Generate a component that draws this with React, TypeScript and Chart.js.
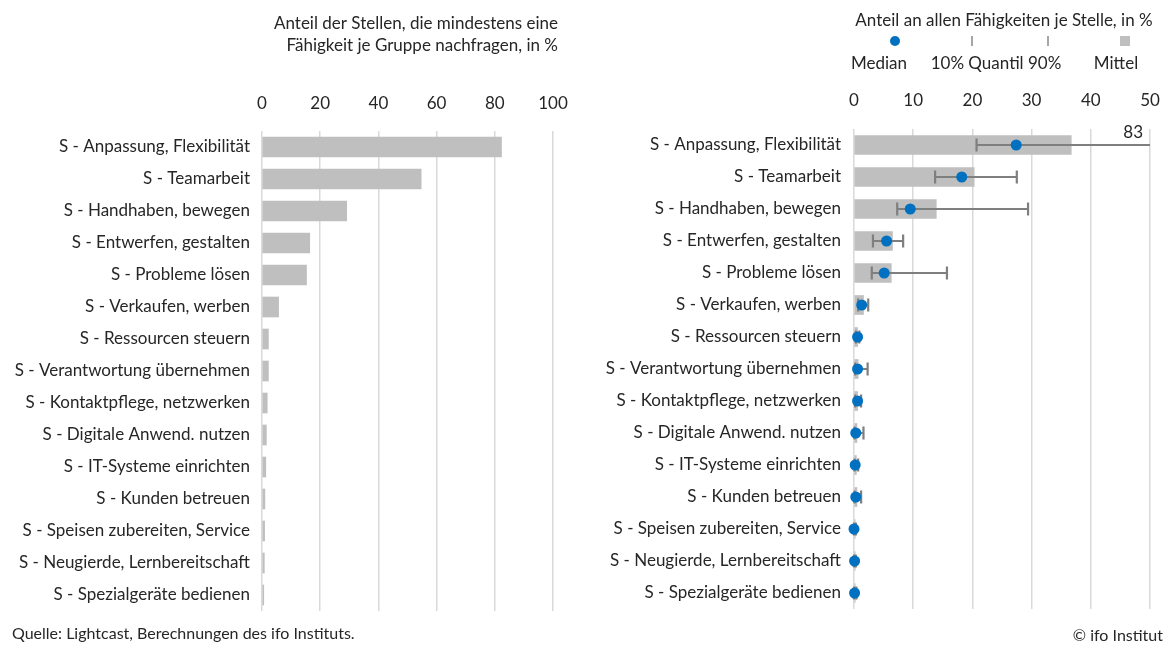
import React, { useEffect, useRef } from "react";
import { Chart, registerables } from "chart.js";

Chart.register(...registerables);

const categories = [
  "S - Anpassung, Flexibilität",
  "S - Teamarbeit",
  "S - Handhaben, bewegen",
  "S - Entwerfen, gestalten",
  "S - Probleme lösen",
  "S - Verkaufen, werben",
  "S - Ressourcen steuern",
  "S - Verantwortung übernehmen",
  "S - Kontaktpflege, netzwerken",
  "S - Digitale Anwend. nutzen",
  "S - IT-Systeme einrichten",
  "S - Kunden betreuen",
  "S - Speisen zubereiten, Service",
  "S - Neugierde, Lernbereitschaft",
  "S - Spezialgeräte bedienen",
];

// Left panel: share of job ads requesting at least one skill of the group, in %
const shareAtLeastOne = [82.3, 54.7, 29.1, 16.4, 15.3, 5.7, 2.2, 2.2, 1.8, 1.5, 1.3, 1.0, 0.9, 0.8, 0.6];

// Right panel: share among all skills per job ad, in %
const meanShare = [36.7, 20.3, 13.9, 6.5, 6.3, 1.6, 0.6, 0.7, 0.6, 0.5, 0.4, 0.5, 0.2, 0.2, 0.2];
const medianShare = [27.4, 18.2, 9.5, 5.5, 5.1, 1.3, 0.6, 0.6, 0.6, 0.3, 0.2, 0.3, 0.0, 0.1, 0.1];
const q10Share = [20.7, 13.7, 7.3, 3.2, 3.0, 0.7, 0.3, 0.2, 0.2, 0.1, 0.1, 0.1, 0.0, 0.0, 0.0];
const q90Share = [83, 27.5, 29.4, 8.3, 15.7, 2.4, 0.9, 2.3, 1.2, 1.6, 0.7, 1.2, 0.3, 0.3, 0.4];

const leftTitleLines = ["Anteil der Stellen, die mindestens eine", "Fähigkeit je Gruppe nachfragen, in %"];
const rightTitle = "Anteil an allen Fähigkeiten je Stelle, in %";
const legendLabels = ["Median", "10% Quantil 90%", "Mittel"];
const leftAxis = { min: 0, max: 100, step: 20 };
const rightAxis = { min: 0, max: 50, step: 10 };
const sourceText = "Quelle: Lightcast, Berechnungen des ifo Instituts.";
const copyrightText = "© ifo Institut";

const FONT = "Lato, 'Source Sans Pro', sans-serif";
const TEXT = "#262626";
const GRID = "#d9d9d9";
const BAR = "#bfbfbf";
const BLUE = "#0070c0";
const WHISKER = "#7f7f7f";
const FS = 17;

const leftTitlePlugin = {
  id: "leftTitle",
  afterDraw(chart: any) {
    const ctx = chart.ctx;
    ctx.save();
    ctx.fillStyle = TEXT;
    ctx.font = `${FS}px ${FONT}`;
    ctx.textAlign = "right";
    ctx.textBaseline = "middle";
    ctx.fillText(leftTitleLines[0], 558, 24);
    ctx.fillText(leftTitleLines[1], 558, 46);
    ctx.restore();
  },
};

const rightLegendPlugin = {
  id: "rightLegend",
  afterDraw(chart: any) {
    const ctx = chart.ctx;
    const off = 580;
    ctx.save();
    ctx.fillStyle = TEXT;
    ctx.font = `${FS}px ${FONT}`;
    ctx.textAlign = "center";
    ctx.textBaseline = "middle";
    ctx.fillText(rightTitle, 1004 - off, 21);
    ctx.fillText(legendLabels[0], 879 - off, 64);
    ctx.fillText(legendLabels[1], 996 - off, 64);
    ctx.fillText(legendLabels[2], 1116 - off, 64);
    // symbols
    ctx.fillStyle = BLUE;
    ctx.beginPath();
    ctx.arc(895 - off, 41, 5, 0, Math.PI * 2);
    ctx.fill();
    ctx.strokeStyle = "#a6a6a6";
    ctx.lineWidth = 2;
    [972, 1048].forEach((px) => {
      ctx.beginPath();
      ctx.moveTo(px - off, 36);
      ctx.lineTo(px - off, 46);
      ctx.stroke();
    });
    ctx.fillStyle = BAR;
    ctx.fillRect(1120 - off, 36, 10, 10);
    ctx.restore();
  },
};

const whiskerPlugin = {
  id: "whiskers",
  afterDatasetDraw(chart: any, args: any) {
    if (args.index !== 0) return;
    const { ctx, scales } = chart;
    const x = scales.x;
    const y = scales.y;
    ctx.save();
    ctx.strokeStyle = WHISKER;
    ctx.lineWidth = 2.2;
    q10Share.forEach((lo: number, i: number) => {
      const hi = q90Share[i];
      const yc = y.getPixelForValue(i);
      const clipped = hi > x.max;
      const x1 = x.getPixelForValue(lo);
      const x2 = x.getPixelForValue(Math.min(hi, x.max));
      ctx.beginPath();
      ctx.moveTo(x1, yc);
      ctx.lineTo(x2, yc);
      ctx.moveTo(x1, yc - 6.5);
      ctx.lineTo(x1, yc + 6.5);
      if (!clipped) {
        ctx.moveTo(x2, yc - 6.5);
        ctx.lineTo(x2, yc + 6.5);
      }
      ctx.stroke();
      if (clipped) {
        ctx.fillStyle = TEXT;
        ctx.font = `${FS}px ${FONT}`;
        ctx.textAlign = "right";
        ctx.textBaseline = "middle";
        ctx.fillText(String(hi), x2 - 7, yc - 12);
      }
    });
    ctx.restore();
  },
};

function xScale(axis: { min: number; max: number; step: number }, height: number, pad: number) {
  return {
    type: "linear" as const,
    position: "top" as const,
    min: axis.min,
    max: axis.max,
    afterFit(scale: any) {
      scale.height = height;
      scale.paddingLeft = 0;
      scale.paddingRight = 0;
    },
    ticks: {
      stepSize: axis.step,
      color: TEXT,
      font: { family: FONT, size: FS },
      padding: pad,
    },
    grid: { color: GRID, lineWidth: 1.5, drawTicks: false },
    border: { display: false },
  };
}

function yScale(width: number, pad: number) {
  return {
    type: "category" as const,
    afterFit(scale: any) {
      scale.width = width;
      scale.paddingTop = 0;
      scale.paddingBottom = 0;
    },
    ticks: {
      color: TEXT,
      font: { family: FONT, size: FS },
      padding: pad,
      autoSkip: false,
    },
    grid: { display: false, drawTicks: false },
    border: { display: false },
  };
}

export default function App() {
  const leftRef = useRef<HTMLCanvasElement>(null);
  const rightRef = useRef<HTMLCanvasElement>(null);

  useEffect(() => {
    const left = new Chart(leftRef.current!, {
      type: "bar",
      data: {
        labels: categories,
        datasets: [
          {
            data: shareAtLeastOne,
            backgroundColor: BAR,
            barThickness: 20,
          },
        ],
      },
      options: {
        indexAxis: "y",
        responsive: false,
        animation: false,
        layout: { padding: { top: 80, right: 27, left: 0, bottom: 35 } },
        plugins: { legend: { display: false }, tooltip: { enabled: false } },
        scales: {
          x: xScale(leftAxis, 51, 17),
          y: yScale(262, 12),
        },
      },
      plugins: [leftTitlePlugin],
    } as any);

    const right = new Chart(rightRef.current!, {
      type: "bar",
      data: {
        labels: categories,
        datasets: [
          {
            type: "bar",
            label: "Mittel",
            data: meanShare,
            backgroundColor: BAR,
            barThickness: 19,
            order: 2,
          },
          {
            type: "line",
            label: "Median",
            data: medianShare,
            indexAxis: "y",
            showLine: false,
            pointRadius: 5.5,
            pointBackgroundColor: BLUE,
            pointBorderWidth: 0,
            borderColor: BLUE,
            clip: false,
            order: 1,
          },
        ],
      },
      options: {
        indexAxis: "y",
        responsive: false,
        animation: false,
        layout: { padding: { top: 78, right: 17, left: 0, bottom: 37 } },
        plugins: { legend: { display: false }, tooltip: { enabled: false } },
        scales: {
          x: xScale(rightAxis, 51, 18),
          y: yScale(274, 13),
        },
      },
      plugins: [whiskerPlugin, rightLegendPlugin],
    } as any);

    return () => {
      left.destroy();
      right.destroy();
    };
  }, []);

  return (
    <div
      style={{
        position: "fixed",
        left: 0,
        top: 0,
        width: 1167,
        height: 646,
        background: "#fff",
        fontFamily: FONT,
        color: TEXT,
      }}
    >
      <canvas
        ref={leftRef}
        width={580}
        height={646}
        style={{ position: "absolute", left: 0, top: 0, width: 580, height: 646 }}
      />
      <canvas
        ref={rightRef}
        width={587}
        height={646}
        style={{ position: "absolute", left: 580, top: 0, width: 587, height: 646 }}
      />
      <div style={{ position: "absolute", left: 12, top: 623, fontSize: 16, lineHeight: "20px" }}>{sourceText}</div>
      <div style={{ position: "absolute", right: 4, top: 625, fontSize: 16, lineHeight: "20px" }}>{copyrightText}</div>
    </div>
  );
}
